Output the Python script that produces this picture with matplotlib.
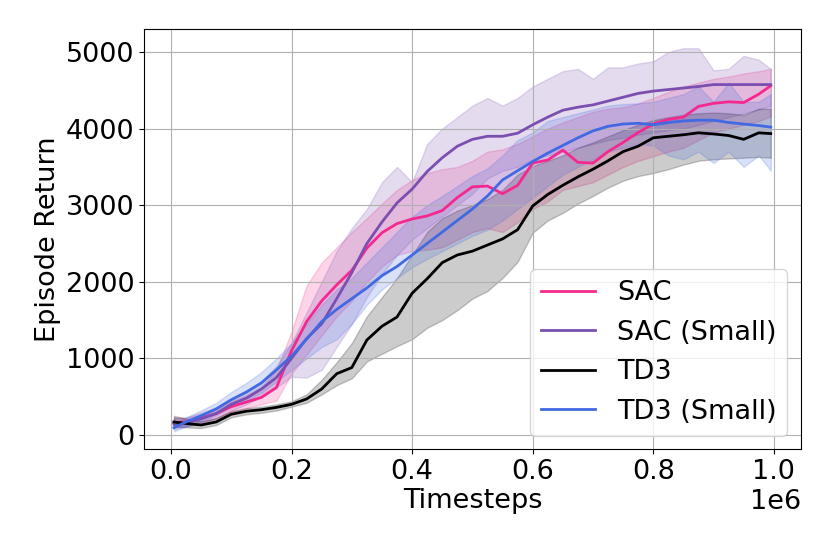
import numpy as np
import matplotlib
matplotlib.use("Agg")
import matplotlib.pyplot as plt

steps = [5000, 25000, 50000, 75000, 100000, 125000, 150000, 175000, 200000,
         225000, 250000, 275000, 300000, 325000, 350000, 375000, 400000,
         425000, 450000, 475000, 500000, 525000, 550000, 575000, 600000,
         625000, 650000, 675000, 700000, 725000, 750000, 775000, 800000,
         825000, 850000, 875000, 900000, 925000, 950000, 975000, 995000]

# SAC
sac_mean = [160, 170, 220, 280, 370, 430, 490, 620, 1100, 1480, 1750, 1960, 2150,
            2440, 2640, 2760, 2820, 2860, 2930, 3100, 3240, 3250, 3150, 3260, 3550,
            3590, 3720, 3560, 3550, 3700, 3820, 3950, 4060, 4120, 4150, 4290, 4330,
            4350, 4340, 4450, 4560]
sac_low = [100, 120, 170, 220, 300, 350, 400, 450, 800, 1050, 1300, 1550, 1750,
           2000, 2200, 2350, 2400, 2420, 2450, 2550, 2650, 2700, 2650, 2780, 2950,
           3050, 3200, 3250, 3300, 3400, 3500, 3580, 3640, 3700, 3750, 3850, 3950,
           4000, 4050, 4100, 4160]
sac_high = [220, 220, 270, 340, 440, 520, 620, 850, 1350, 1950, 2250, 2450, 2650,
            2830, 3020, 3200, 3330, 3420, 3470, 3500, 3580, 3700, 3730, 3800, 3900,
            4000, 4080, 4150, 4220, 4260, 4280, 4330, 4400, 4480, 4550, 4600, 4650,
            4680, 4720, 4750, 4780]

# SAC (Small)
sacs_mean = [140, 160, 210, 280, 400, 480, 600, 750, 1000, 1260, 1450, 1780, 2120,
             2500, 2780, 3030, 3210, 3440, 3620, 3770, 3860, 3900, 3900, 3940, 4050,
             4150, 4240, 4280, 4310, 4360, 4410, 4460, 4490, 4510, 4530, 4550, 4575,
             4575, 4575, 4575, 4575]
sacs_low = [80, 110, 150, 210, 320, 400, 500, 620, 760, 750, 850, 1150, 1450,
            1800, 2100, 2350, 2550, 2700, 2850, 3000, 3150, 3350, 3450, 3500, 3600,
            3650, 3700, 3750, 3800, 3850, 3880, 3920, 3950, 3980, 4000, 4050, 4100,
            4150, 4200, 4250, 4300]
sacs_high = [230, 230, 290, 360, 470, 560, 700, 900, 1200, 1600, 2000, 2400, 2700,
             2950, 3300, 3500, 3300, 3800, 4000, 4150, 4300, 4400, 4300, 4400, 4550,
             4650, 4750, 4780, 4650, 4800, 4800, 4850, 4880, 5000, 5050, 5050, 4760,
             4780, 4950, 4900, 4780]

# TD3
td3_mean = [170, 150, 130, 170, 270, 310, 330, 360, 400, 470, 600, 800, 880,
            1240, 1420, 1540, 1850, 2040, 2250, 2350, 2400, 2480, 2560, 2680, 2990,
            3140, 3260, 3370, 3470, 3580, 3700, 3770, 3880, 3900, 3920, 3945, 3930,
            3910, 3860, 3945, 3935]
td3_low = [110, 100, 90, 130, 230, 270, 290, 320, 370, 420, 530, 650, 740,
           960, 1060, 1160, 1250, 1400, 1500, 1630, 1780, 1880, 2050, 2260, 2640,
           2800, 2900, 3020, 3120, 3230, 3320, 3380, 3420, 3470, 3530, 3580, 3600,
           3610, 3620, 3630, 3620]
td3_high = [250, 210, 180, 220, 310, 350, 370, 400, 440, 530, 720, 950, 1200,
            1550, 1800, 2050, 2350, 2650, 2830, 2930, 3000, 3080, 3200, 3400, 3510,
            3580, 3650, 3750, 3820, 3900, 3980, 4050, 4110, 4150, 4180, 4200, 4210,
            4200, 4180, 4260, 4260]

# TD3 (Small)
td3s_mean = [95, 170, 250, 340, 460, 560, 680, 850, 1030, 1250, 1480, 1640, 1780,
             1920, 2080, 2200, 2350, 2500, 2650, 2800, 2950, 3120, 3330, 3450, 3570,
             3680, 3780, 3880, 3970, 4030, 4060, 4070, 4050, 4080, 4100, 4110, 4110,
             4080, 4060, 4040, 4020]
td3s_low = [50, 110, 180, 260, 370, 450, 550, 700, 850, 1000, 1150, 1250, 1450,
            1700, 1900, 2050, 2190, 2300, 2400, 2500, 2600, 2680, 2800, 2950, 3100,
            3250, 3400, 3500, 3600, 3700, 3750, 3800, 3780, 3650, 3600, 3700, 3550,
            3700, 3500, 3650, 3450]
td3s_high = [150, 230, 320, 420, 560, 680, 820, 1000, 1200, 1450, 1700, 1900, 2050,
             2250, 2450, 2650, 2850, 3000, 3120, 3250, 3380, 3480, 3650, 3850, 3950,
             4100, 4150, 4200, 4250, 4300, 4320, 4330, 4350, 4400, 4450, 4550, 4350,
             4600, 4350, 4350, 4450]

series = [
    ("SAC", sac_mean, sac_low, sac_high, "#f5288f"),
    ("SAC (Small)", sacs_mean, sacs_low, sacs_high, "#7b4fb0"),
    ("TD3", td3_mean, td3_low, td3_high, "black"),
    ("TD3 (Small)", td3s_mean, td3s_low, td3s_high, "#4169e1"),
]

plt.rcParams['font.size'] = 19.5
fig = plt.figure(figsize=(8.3, 5.54), dpi=100)
ax = fig.add_axes([0.174, 0.189, 0.791, 0.758])

for name, mean, low, high, col in series:
    ax.fill_between(steps, low, high, color=col, alpha=0.2)
    ax.plot(steps, mean, color=col, linewidth=2, label=name)

ax.set_xlim(-44000, 1045000)
ax.set_ylim(-187, 5296)
ax.set_xlabel("Timesteps", labelpad=2)
ax.set_ylabel("Episode Return")
ax.grid(True)
ax.legend(loc="lower right")
fig.savefig("out.png", dpi=100)
